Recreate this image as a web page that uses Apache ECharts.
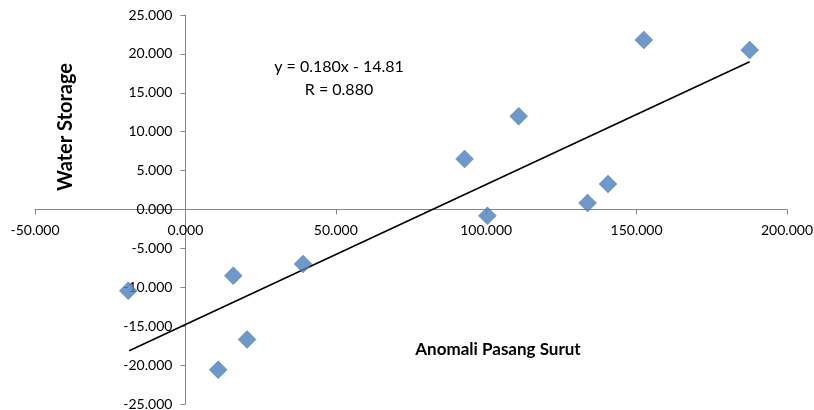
<!DOCTYPE html>
<html>
<head>
<meta charset="utf-8">
<script src="https://cdn.jsdelivr.net/npm/echarts@6/dist/echarts.min.js"></script>
<style>html,body{margin:0;padding:0;background:#fff}#c{width:814px;height:410px}</style>
</head>
<body>
<div id="c"></div>
<script>
var anomaliX = [-19.0, 15.9, 20.5, 10.9, 39.1, 92.8, 100.4, 110.8, 133.7, 140.5, 152.4, 187.6];
var waterY   = [-10.44, -8.5, -16.7, -20.6, -7.0, 6.5, -0.8, 12.0, 0.84, 3.28, 21.8, 20.5];
var trendX = [-18.7, 187.6];
var trendY = [-18.15, 19.0];
var equationText = ['y = 0.180x - 14.81', 'R = 0.880'];
var xTitle = 'Anomali Pasang Surut';
var yTitle = 'Water Storage';

var pts = anomaliX.map(function (x, i) { return [x, waterY[i]]; });
var trend = trendX.map(function (x, i) { return [x, trendY[i]]; });
var FONT = 'Lato';
var G = { left: 35, right: 27, top: 15, bottom: 6 };
var W = 814 - G.left - G.right, H = 410 - G.top - G.bottom;
var xMin = -50, xMax = 200, yMin = -25, yMax = 25;
// axes cross at zero: shift each axis line from grid edge to the other axis' zero
var yAxisOffset = -W * (0 - xMin) / (xMax - xMin);
var xAxisOffset = -H * (0 - yMin) / (yMax - yMin);

var chart = echarts.init(document.getElementById('c'));
chart.setOption({
  animation: false,
  grid: Object.assign({ containLabel: false, outerBoundsMode: 'none' }, G),
  xAxis: {
    type: 'value', min: xMin, max: xMax, interval: 50, position: 'bottom', offset: xAxisOffset,
    axisLine: { onZero: false, lineStyle: { color: '#868686', width: 1 } },
    axisTick: { show: true, length: 5, lineStyle: { color: '#868686' } },
    axisLabel: { color: '#000', fontFamily: FONT, fontSize: 14, margin: 14,
      formatter: function (v) { return v.toFixed(3); } },
    splitLine: { show: false }
  },
  yAxis: {
    type: 'value', min: yMin, max: yMax, interval: 5, position: 'left', offset: yAxisOffset,
    axisLine: { onZero: false, lineStyle: { color: '#868686', width: 1 } },
    axisTick: { show: true, length: 5, lineStyle: { color: '#868686' } },
    axisLabel: { color: '#000', fontFamily: FONT, fontSize: 14, margin: 13,
      formatter: function (v) { return v.toFixed(3); } },
    splitLine: { show: false }
  },
  series: [
    { type: 'line', data: trend, symbol: 'none', z: 1,
      lineStyle: { color: '#000', width: 1.6 } },
    { type: 'scatter', data: pts, symbol: 'diamond', symbolSize: [18, 18], z: 2,
      itemStyle: { color: '#4A7EBB', borderColor: '#4579B8', borderWidth: 0.5 } }
  ],
  graphic: [
    { type: 'text', z: 10, position: [339, 67],
      style: { text: equationText[0], x: 0, y: 0, align: 'center', verticalAlign: 'middle',
        font: '16px ' + FONT, fill: '#000' } },
    { type: 'text', z: 10, position: [339, 90],
      style: { text: equationText[1], x: 0, y: 0, align: 'center', verticalAlign: 'middle',
        font: '16px ' + FONT, fill: '#000' } },
    { type: 'text', z: 10, position: [498, 350],
      style: { text: xTitle, x: 0, y: 0, align: 'center', verticalAlign: 'middle',
        font: 'bold 17px ' + FONT, fill: '#000' } },
    { type: 'text', z: 10, position: [66, 127], rotation: Math.PI / 2,
      style: { text: yTitle, x: 0, y: 0, align: 'center', verticalAlign: 'middle',
        font: 'bold 20px ' + FONT, fill: '#000' } }
  ]
});
</script>
</body>
</html>
